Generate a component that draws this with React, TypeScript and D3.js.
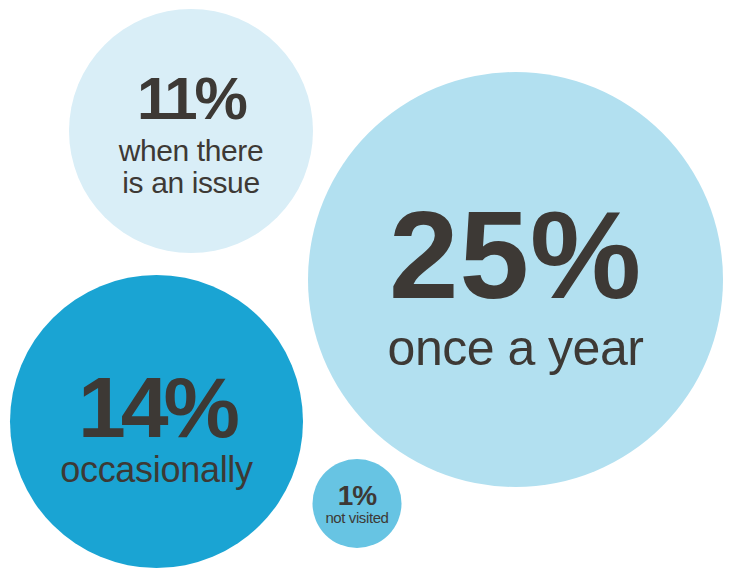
import React from "react";
import * as d3 from "d3";

// Data
const values = [11, 25, 14, 1];
const labels = [["when there", "is an issue"], ["once a year"], ["occasionally"], ["not visited"]];

// Layout (positions / sizes / styles)
const layout = [
  { cx: 191, cy: 131, r: 122, fill: "#d9eef7", bigSize: 60, bigDy: -12, bigLs: -3, lblSize: 30, lblLs: -0.4, lblDy: [30, 62] },
  { cx: 515.5, cy: 279.5, r: 207.5, fill: "#b2e0f0", bigSize: 125, bigDy: 18.5, bigLs: 1, lblSize: 50, lblLs: -0.5, lblDy: [85.5] },
  { cx: 156.5, cy: 421.5, r: 146.5, fill: "#1aa4d3", bigSize: 86, bigDy: 15.5, bigLs: -5, lblSize: 36, lblLs: -0.3, lblDy: [60.5] },
  { cx: 357, cy: 503.5, r: 44.5, fill: "#67c4e3", bigSize: 28, bigDy: 1.5, bigLs: -1, lblSize: 15, lblLs: -0.4, lblDy: [19.5] },
];

const W = 732, H = 570;
const fmt = d3.format("d");
const FONT = "'Liberation Sans', Arial, sans-serif";
const TEXT = "#3d3935";

export default function App() {
  return (
    <svg width={W} height={H} style={{ position: "absolute", left: 0, top: 0, background: "#fff" }}>
      {values.map((v, i) => {
        const L = layout[i];
        return (
          <g key={i}>
            <circle cx={L.cx} cy={L.cy} r={L.r} fill={L.fill} />
            <text x={L.cx} y={L.cy + L.bigDy} textAnchor="middle" fontFamily={FONT} fontWeight={700}
              fontSize={L.bigSize} letterSpacing={L.bigLs} fill={TEXT}>{fmt(v)}%</text>
            {labels[i].map((t, j) => (
              <text key={j} x={L.cx} y={L.cy + L.lblDy[j]} textAnchor="middle" fontFamily={FONT}
                fontSize={L.lblSize} letterSpacing={L.lblLs} fill={TEXT}>{t}</text>
            ))}
          </g>
        );
      })}
    </svg>
  );
}
